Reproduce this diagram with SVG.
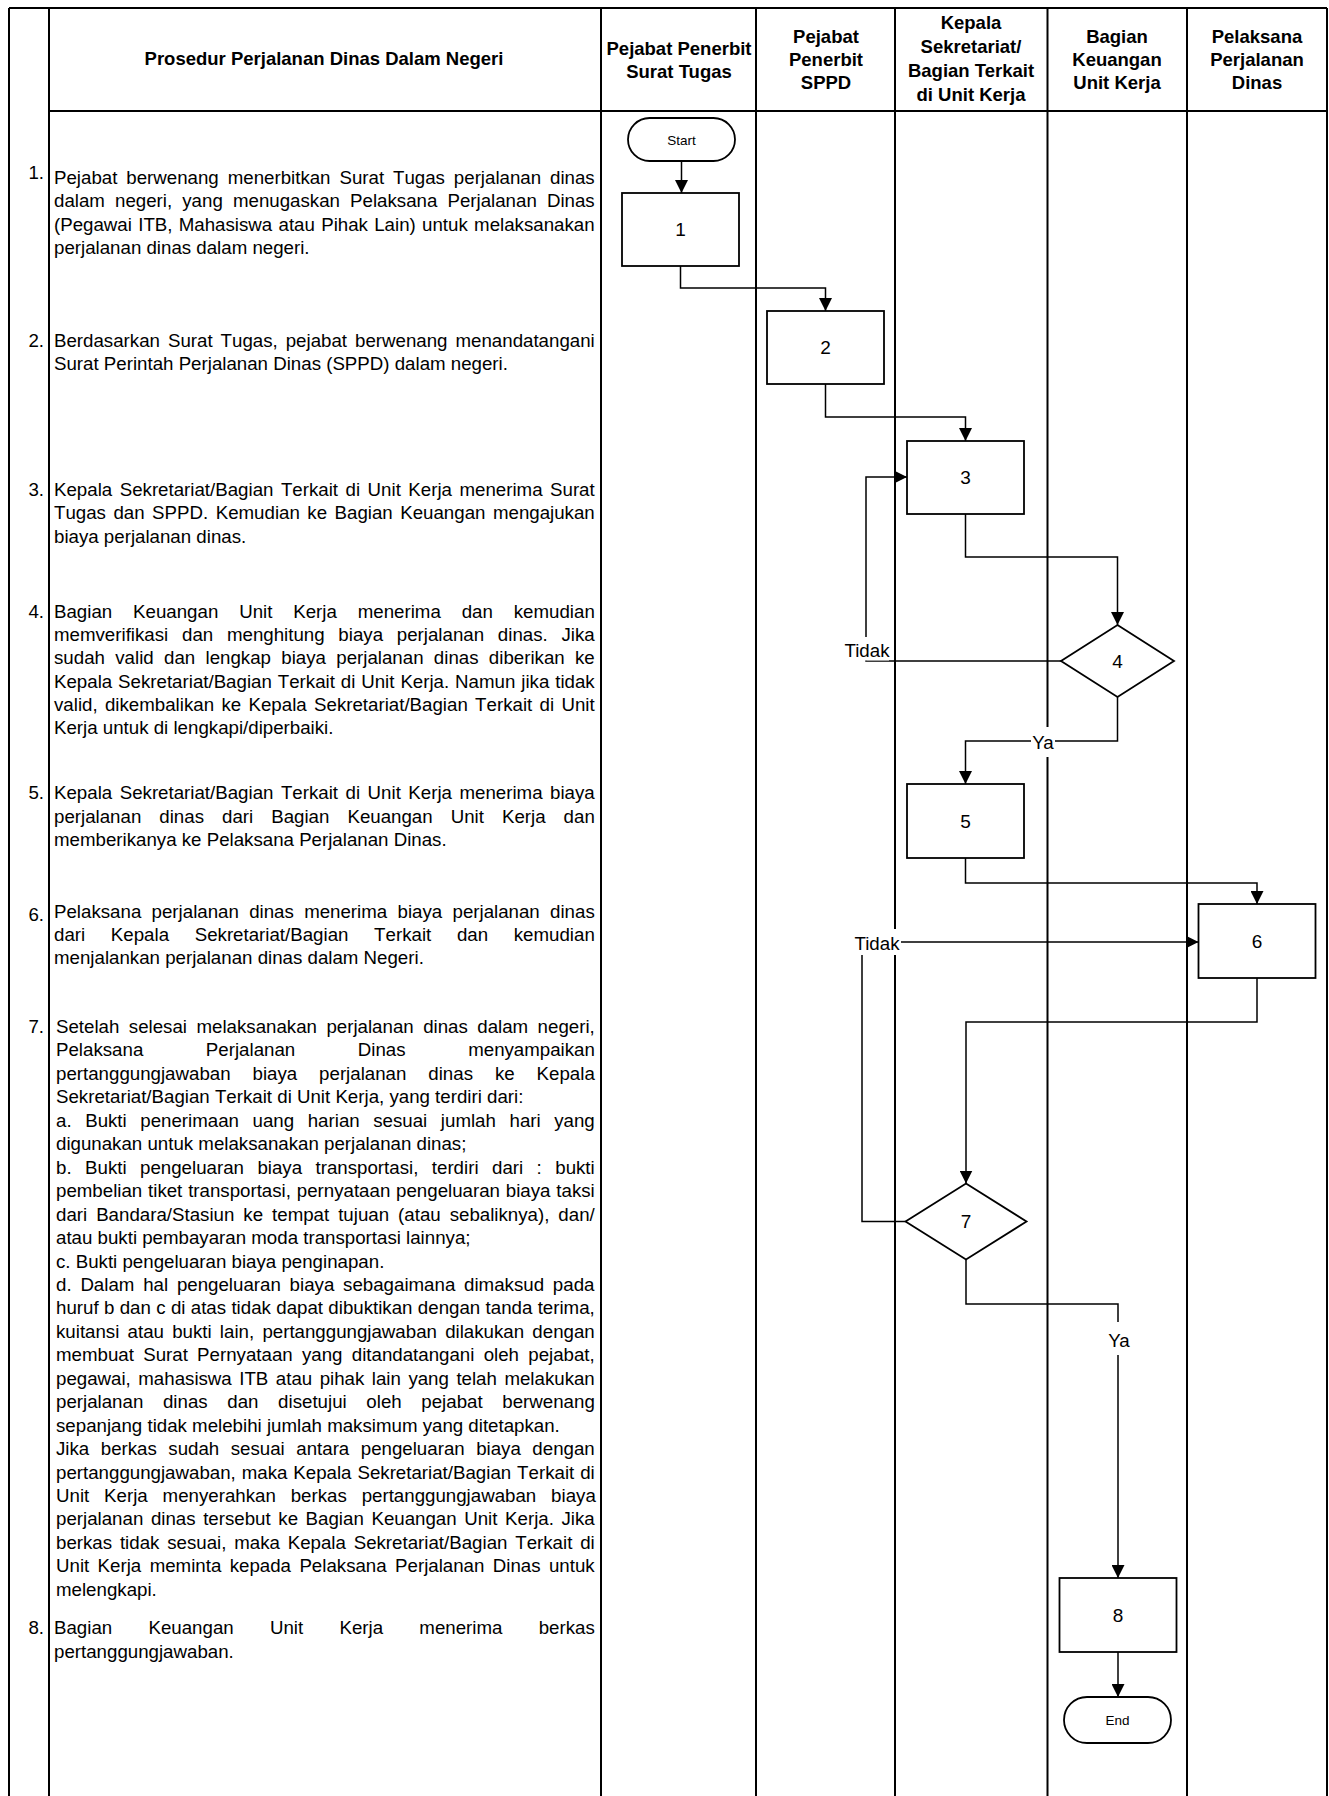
<svg xmlns="http://www.w3.org/2000/svg" width="1329" height="1796" viewBox="0 0 1329 1796">
<defs>
<style>
.g{stroke:#000;stroke-width:2;fill:none}
.t{font-family:"Liberation Sans",Arial,sans-serif;font-size:18.7px;fill:#000;font-kerning:none}
.n{font-family:"Liberation Sans",Arial,sans-serif;font-size:18.7px;fill:#000;text-anchor:end}
.h{font-family:"Liberation Sans",Arial,sans-serif;font-size:18.5px;font-weight:bold;fill:#000;text-anchor:middle}
.c{stroke:#000;stroke-width:1.5;fill:none}
.box{stroke:#000;stroke-width:1.8;fill:#fff}
.lbl{font-family:"Liberation Sans",Arial,sans-serif;font-size:19px;fill:#000;text-anchor:middle}
.sm{font-family:"Liberation Sans",Arial,sans-serif;font-size:13.5px;fill:#000;text-anchor:middle}
.cl{font-family:"Liberation Sans",Arial,sans-serif;font-size:18.7px;fill:#000;text-anchor:middle}
</style>
<marker id="arr" markerWidth="13" markerHeight="13" refX="13" refY="6.5" orient="auto" markerUnits="userSpaceOnUse"><path d="M0,0 L13,6.5 L0,13 z" fill="#000"/></marker>
</defs>
<rect width="1329" height="1796" fill="#fff"/>
<g id="grid">
<path class="g" d="M9,8 H1327 M9,8 V1796 M49,8 V1796 M49,111 H1327 M601,8 V1796 M756,8 V1796 M895,8 V1796 M1047.5,8 V1796 M1187,8 V1796 M1327,8 V1796"/>
</g>
<g id="headers">
<text class="h" x="324" y="65">Prosedur Perjalanan Dinas Dalam Negeri</text>
<text class="h" x="679" y="55">Pejabat Penerbit</text>
<text class="h" x="679" y="78">Surat Tugas</text>
<text class="h" x="826" y="42.5">Pejabat</text>
<text class="h" x="826" y="65.5">Penerbit</text>
<text class="h" x="826" y="88.5">SPPD</text>
<text class="h" x="971" y="29">Kepala</text>
<text class="h" x="971" y="53">Sekretariat/</text>
<text class="h" x="971" y="77">Bagian Terkait</text>
<text class="h" x="971" y="101">di Unit Kerja</text>
<text class="h" x="1117" y="42.5">Bagian</text>
<text class="h" x="1117" y="65.5">Keuangan</text>
<text class="h" x="1117" y="88.5">Unit Kerja</text>
<text class="h" x="1257" y="42.5">Pelaksana</text>
<text class="h" x="1257" y="65.5">Perjalanan</text>
<text class="h" x="1257" y="88.5">Dinas</text>
</g>
<g id="procedure-text">
<text class="n" x="44" y="179">1.</text>
<text class="t" x="54" y="184" style="word-spacing:3.72px">Pejabat berwenang menerbitkan Surat Tugas perjalanan dinas</text>
<text class="t" x="54" y="207.3" style="word-spacing:4.93px">dalam negeri, yang menugaskan Pelaksana Perjalanan Dinas</text>
<text class="t" x="54" y="230.6" style="word-spacing:1.1px">(Pegawai ITB, Mahasiswa atau Pihak Lain) untuk melaksanakan</text>
<text class="t" x="54" y="253.9">perjalanan dinas dalam negeri.</text>

<text class="n" x="44" y="346.5">2.</text>
<text class="t" x="54" y="346.5" style="word-spacing:2.8px">Berdasarkan Surat Tugas, pejabat berwenang menandatangani</text>
<text class="t" x="54" y="369.8">Surat Perintah Perjalanan Dinas (SPPD) dalam negeri.</text>

<text class="n" x="44" y="496">3.</text>
<text class="t" x="54" y="496" style="word-spacing:2.31px">Kepala Sekretariat/Bagian Terkait di Unit Kerja menerima Surat</text>
<text class="t" x="54" y="519.3" style="word-spacing:2.3px">Tugas dan SPPD. Kemudian ke Bagian Keuangan mengajukan</text>
<text class="t" x="54" y="542.6">biaya perjalanan dinas.</text>

<text class="n" x="44" y="617.7">4.</text>
<text class="t" x="54" y="617.7" style="word-spacing:15.68px">Bagian Keuangan Unit Kerja menerima dan kemudian</text>
<text class="t" x="54" y="641" style="word-spacing:8.58px">memverifikasi dan menghitung biaya perjalanan dinas. Jika</text>
<text class="t" x="54" y="664.3" style="word-spacing:5.13px">sudah valid dan lengkap biaya perjalanan dinas diberikan ke</text>
<text class="t" x="54" y="687.6" style="word-spacing:0.72px">Kepala Sekretariat/Bagian Terkait di Unit Kerja. Namun jika tidak</text>
<text class="t" x="54" y="710.9" style="word-spacing:2.16px">valid, dikembalikan ke Kepala Sekretariat/Bagian Terkait di Unit</text>
<text class="t" x="54" y="734.2">Kerja untuk di lengkapi/diperbaiki.</text>

<text class="n" x="44" y="799.3">5.</text>
<text class="t" x="54" y="799.3" style="word-spacing:2.31px">Kepala Sekretariat/Bagian Terkait di Unit Kerja menerima biaya</text>
<text class="t" x="54" y="822.6" style="word-spacing:12.84px">perjalanan dinas dari Bagian Keuangan Unit Kerja dan</text>
<text class="t" x="54" y="845.9">memberikanya ke Pelaksana Perjalanan Dinas.</text>

<text class="n" x="44" y="921">6.</text>
<text class="t" x="54" y="917.7" style="word-spacing:5.11px">Pelaksana perjalanan dinas menerima biaya perjalanan dinas</text>
<text class="t" x="54" y="941" style="word-spacing:20.48px">dari Kepala Sekretariat/Bagian Terkait dan kemudian</text>
<text class="t" x="54" y="964.3">menjalankan perjalanan dinas dalam Negeri.</text>

<text class="n" x="44" y="1033">7.</text>
<text class="t" x="56" y="1033" style="word-spacing:4.26px">Setelah selesai melaksanakan perjalanan dinas dalam negeri,</text>
<text class="t" x="56" y="1056.45" style="word-spacing:57.4px">Pelaksana Perjalanan Dinas menyampaikan</text>
<text class="t" x="56" y="1079.9" style="word-spacing:16.74px">pertanggungjawaban biaya perjalanan dinas ke Kepala</text>
<text class="t" x="56" y="1103.35">Sekretariat/Bagian Terkait di Unit Kerja, yang terdiri dari:</text>
<text class="t" x="56" y="1126.8" style="word-spacing:8.39px">a. Bukti penerimaan uang harian sesuai jumlah hari yang</text>
<text class="t" x="56" y="1150.25">digunakan untuk melaksanakan perjalanan dinas;</text>
<text class="t" x="56" y="1173.7" style="word-spacing:8.26px">b. Bukti pengeluaran biaya transportasi, terdiri dari : bukti</text>
<text class="t" x="56" y="1197.15" style="word-spacing:0.62px">pembelian tiket transportasi, pernyataan pengeluaran biaya taksi</text>
<text class="t" x="56" y="1220.6" style="word-spacing:3.8px">dari Bandara/Stasiun ke tempat tujuan (atau sebaliknya), dan/</text>
<text class="t" x="56" y="1244.05">atau bukti pembayaran moda transportasi lainnya;</text>
<text class="t" x="56" y="1267.5">c. Bukti pengeluaran biaya penginapan.</text>
<text class="t" x="56" y="1290.95" style="word-spacing:3.6px">d. Dalam hal pengeluaran biaya sebagaimana dimaksud pada</text>
<text class="t" x="56" y="1314.4" style="word-spacing:0.15px">huruf b dan c di atas tidak dapat dibuktikan dengan tanda terima,</text>
<text class="t" x="56" y="1337.85" style="word-spacing:3.03px">kuitansi atau bukti lain, pertanggungjawaban dilakukan dengan</text>
<text class="t" x="56" y="1361.3" style="word-spacing:4.08px">membuat Surat Pernyataan yang ditandatangani oleh pejabat,</text>
<text class="t" x="56" y="1384.75" style="word-spacing:2.29px">pegawai, mahasiswa ITB atau pihak lain yang telah melakukan</text>
<text class="t" x="56" y="1408.2" style="word-spacing:14.47px">perjalanan dinas dan disetujui oleh pejabat berwenang</text>
<text class="t" x="56" y="1431.65">sepanjang tidak melebihi jumlah maksimum yang ditetapkan.</text>
<text class="t" x="56" y="1455.1" style="word-spacing:6.31px">Jika berkas sudah sesuai antara pengeluaran biaya dengan</text>
<text class="t" x="56" y="1478.55" style="word-spacing:0.74px">pertanggungjawaban, maka Kepala Sekretariat/Bagian Terkait di</text>
<text class="t" x="56" y="1502" style="word-spacing:9.68px">Unit Kerja menyerahkan berkas pertanggungjawaban biaya</text>
<text class="t" x="56" y="1525.45" style="word-spacing:2.41px">perjalanan dinas tersebut ke Bagian Keuangan Unit Kerja. Jika</text>
<text class="t" x="56" y="1548.9" style="word-spacing:2.61px">berkas tidak sesuai, maka Kepala Sekretariat/Bagian Terkait di</text>
<text class="t" x="56" y="1572.35" style="word-spacing:3.2px">Unit Kerja meminta kepada Pelaksana Perjalanan Dinas untuk</text>
<text class="t" x="56" y="1595.8">melengkapi.</text>

<text class="n" x="44" y="1634.3">8.</text>
<text class="t" x="54" y="1634.3" style="word-spacing:31.08px">Bagian Keuangan Unit Kerja menerima berkas</text>
<text class="t" x="54" y="1657.6">pertanggungjawaban.</text>
</g>
<g id="connectors">
<path class="c" d="M681.5,161 V193" marker-end="url(#arr)"/>
<path class="c" d="M680.5,266 V288 H825.5 V311" marker-end="url(#arr)"/>
<path class="c" d="M825.5,384 V417 H965.5 V441" marker-end="url(#arr)"/>
<path class="c" d="M965.5,514 V557 H1117.5 V625" marker-end="url(#arr)"/>
<path class="c" d="M1061,661 H866 V477 H907" marker-end="url(#arr)"/>
<path class="c" d="M1117.5,697 V741 H965.5 V784" marker-end="url(#arr)"/>
<path class="c" d="M965.5,858 V883 H1257 V904" marker-end="url(#arr)"/>
<path class="c" d="M1257,978 V1022 H966 V1183.5" marker-end="url(#arr)"/>
<path class="c" d="M905.5,1221.5 H862 V942 H1198.5" marker-end="url(#arr)"/>
<path class="c" d="M966,1259.5 V1304 H1118 V1578" marker-end="url(#arr)"/>
<path class="c" d="M1118,1652 V1697" marker-end="url(#arr)"/>
<rect x="843" y="637" width="46" height="23.5" fill="#fff"/>
<text class="cl" x="867" y="657">Tidak</text>
<rect x="1031" y="727" width="24" height="30" fill="#fff"/>
<text class="cl" x="1043" y="748.5">Ya</text>
<rect x="852" y="929" width="49" height="26" fill="#fff"/>
<text class="cl" x="877" y="949.5">Tidak</text>
<rect x="1106" y="1322" width="26" height="33" fill="#fff"/>
<text class="cl" x="1119" y="1347">Ya</text>
</g>
<g id="node-start">
<rect class="box" x="628" y="118" width="107" height="43" rx="21.5"/>
<text class="sm" x="681.5" y="144.5">Start</text>
</g>
<g id="node-1">
<rect class="box" x="622" y="193" width="117" height="73"/>
<text class="lbl" x="680.5" y="236.3">1</text>
</g>
<g id="node-2">
<rect class="box" x="767" y="311" width="117" height="73"/>
<text class="lbl" x="825.5" y="354.3">2</text>
</g>
<g id="node-3">
<rect class="box" x="907" y="441" width="117" height="73"/>
<text class="lbl" x="965.5" y="484.3">3</text>
</g>
<g id="node-4">
<polygon class="box" points="1117.5,625 1174,661 1117.5,697 1061,661"/>
<text class="lbl" x="1117.5" y="667.8">4</text>
</g>
<g id="node-5">
<rect class="box" x="907" y="784" width="117" height="74"/>
<text class="lbl" x="965.5" y="827.8">5</text>
</g>
<g id="node-6">
<rect class="box" x="1198.5" y="904" width="117" height="74"/>
<text class="lbl" x="1257" y="947.8">6</text>
</g>
<g id="node-7">
<polygon class="box" points="966,1183.5 1026.5,1221.5 966,1259.5 905.5,1221.5"/>
<text class="lbl" x="966" y="1228.3">7</text>
</g>
<g id="node-8">
<rect class="box" x="1059.5" y="1578" width="117" height="74"/>
<text class="lbl" x="1118" y="1621.8">8</text>
</g>
<g id="node-end">
<rect class="box" x="1064" y="1697" width="107" height="46" rx="23"/>
<text class="sm" x="1117.5" y="1725">End</text>
</g>
</svg>
